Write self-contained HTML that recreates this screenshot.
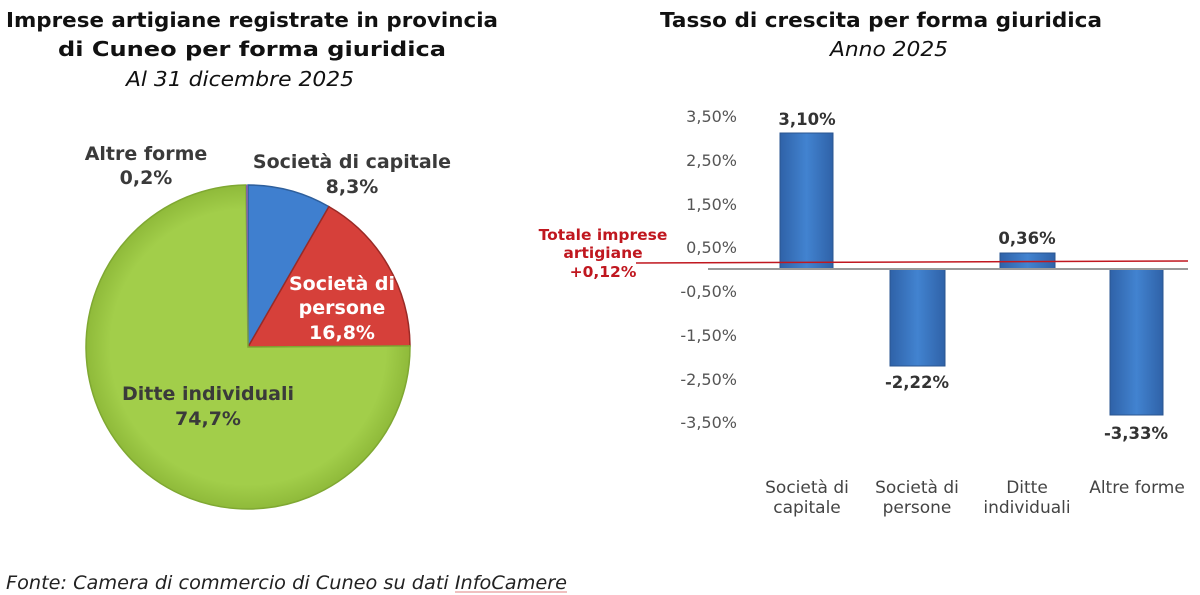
<!DOCTYPE html>
<html><head><meta charset="utf-8"><style>
body{margin:0;background:#fff;}
svg{display:block;font-family:"DejaVu Sans","Liberation Sans",sans-serif;}
</style></head><body>
<svg width="1200" height="595" viewBox="0 0 1200 595" xmlns="http://www.w3.org/2000/svg">
<defs>
<linearGradient id="bar" x1="0" x2="1" y1="0" y2="0">
<stop offset="0" stop-color="#2f62a8"/><stop offset="0.5" stop-color="#4283d0"/><stop offset="1" stop-color="#2f62a8"/></linearGradient>
<radialGradient id="g" cx="0.5" cy="0.5" r="0.5"><stop offset="0.85" stop-color="#a2ce4a"/><stop offset="1" stop-color="#8fba3a"/></radialGradient>
</defs>
<g font-weight="bold" font-size="20" fill="#111">
<text x="6" y="27" textLength="492" lengthAdjust="spacingAndGlyphs">Imprese artigiane registrate in provincia</text>
<text x="58" y="56" textLength="388" lengthAdjust="spacingAndGlyphs">di Cuneo per forma giuridica</text>
</g>
<text x="126" y="86" textLength="228" lengthAdjust="spacingAndGlyphs" font-size="20" font-style="italic" fill="#111">Al 31 dicembre 2025</text>
<path d="M248,347 L248,185 A162,162 0 0 1 328.9,206.6 Z" fill="#3f7fcf" stroke="#2e5f9c" stroke-width="1.5"/>
<path d="M248,347 L328.9,206.6 A162,162 0 0 1 410,345.9 Z" fill="#d6403a" stroke="#9a2a26" stroke-width="1.5"/>
<path d="M248,347 L410,345.9 A162,162 0 1 1 246,185 Z" fill="url(#g)" stroke="#7fa832" stroke-width="1.5"/>
<path d="M248,347 L246,185 A162,162 0 0 1 248,185 Z" fill="#7f64a8"/>
<g font-weight="bold" font-size="19" fill="#3a3a3a" text-anchor="middle">
<text x="146" y="160">Altre forme</text><text x="146" y="184">0,2%</text>
<text x="352" y="168">Società di capitale</text><text x="352" y="193">8,3%</text>
<text x="208" y="400">Ditte individuali</text><text x="208" y="425">74,7%</text>
</g>
<g font-weight="bold" font-size="19" fill="#fff" text-anchor="middle">
<text x="342" y="290">Società di</text><text x="342" y="314">persone</text><text x="342" y="339">16,8%</text>
</g>
<text x="660" y="27" textLength="442" lengthAdjust="spacingAndGlyphs" font-weight="bold" font-size="20" fill="#111">Tasso di crescita per forma giuridica</text>
<text x="830" y="56" textLength="118" lengthAdjust="spacingAndGlyphs" font-style="italic" font-size="20" fill="#111">Anno 2025</text>
<g font-size="16" fill="#555" text-anchor="end">
<text x="737" y="122">3,50%</text><text x="737" y="166">2,50%</text><text x="737" y="210">1,50%</text><text x="737" y="253">0,50%</text>
<text x="737" y="297">-0,50%</text><text x="737" y="341">-1,50%</text><text x="737" y="385">-2,50%</text><text x="737" y="428">-3,50%</text>
</g>
<rect x="780" y="133" width="53" height="136" fill="url(#bar)" stroke="#2a5590"/>
<rect x="890" y="269" width="55" height="97" fill="url(#bar)" stroke="#2a5590"/>
<rect x="1000" y="253" width="55" height="16" fill="url(#bar)" stroke="#2a5590"/>
<rect x="1110" y="269" width="53" height="146" fill="url(#bar)" stroke="#2a5590"/>
<line x1="708" y1="269" x2="1188" y2="269" stroke="#999" stroke-width="2"/>
<line x1="636" y1="263" x2="1188" y2="261" stroke="#c0171f" stroke-width="1.5"/>
<g font-weight="bold" font-size="16.5" fill="#333" text-anchor="middle">
<text x="807" y="125">3,10%</text><text x="917" y="388">-2,22%</text><text x="1027" y="244">0,36%</text><text x="1136" y="439">-3,33%</text>
</g>
<g font-weight="bold" font-size="15.5" fill="#c0171f" text-anchor="middle">
<text x="603" y="240">Totale imprese</text><text x="603" y="258">artigiane</text><text x="603" y="277">+0,12%</text>
</g>
<g font-size="17" fill="#444" text-anchor="middle">
<text x="807" y="493">Società di</text><text x="807" y="513">capitale</text>
<text x="917" y="493">Società di</text><text x="917" y="513">persone</text>
<text x="1027" y="493">Ditte</text><text x="1027" y="513">individuali</text>
<text x="1137" y="493">Altre forme</text>
</g>
<text x="6" y="589" textLength="561" lengthAdjust="spacingAndGlyphs" font-size="19" font-style="italic" fill="#222">Fonte: Camera di commercio di Cuneo su dati InfoCamere</text>
<line x1="455" y1="592" x2="567" y2="592" stroke="#e08080" stroke-width="1"/>
</svg>
</body></html>
